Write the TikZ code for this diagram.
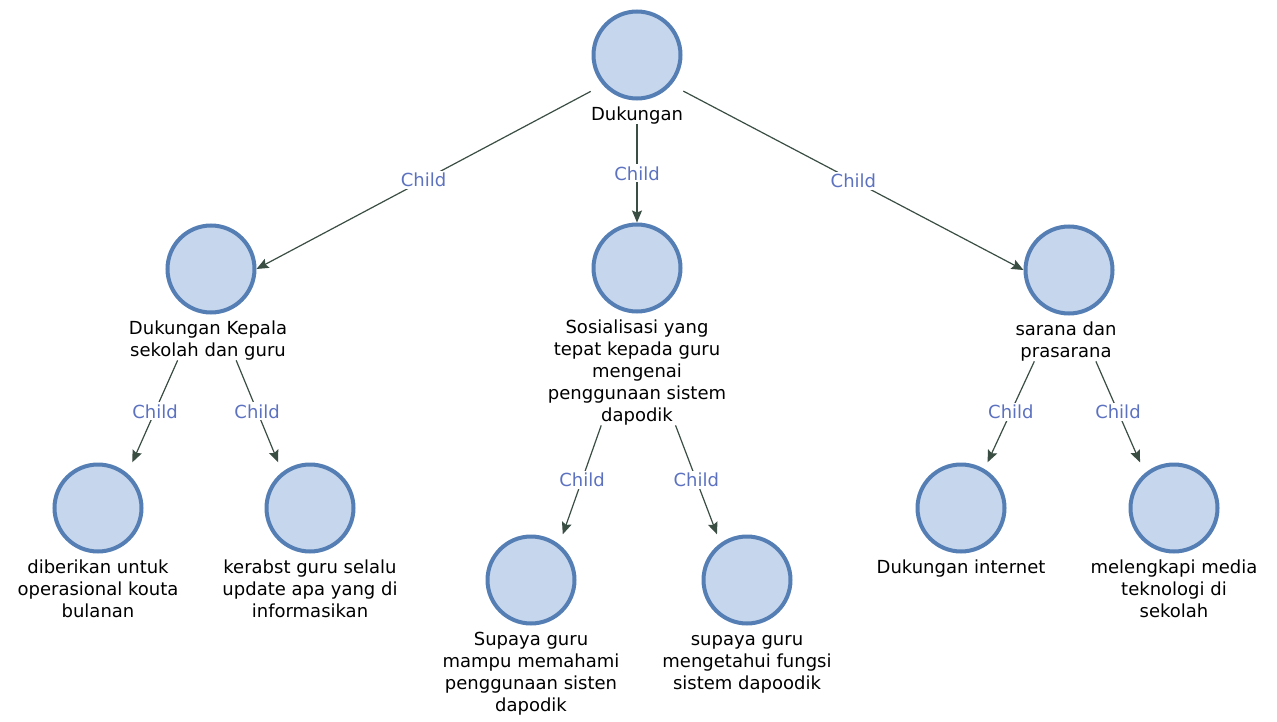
\documentclass[tikz,border=0pt]{standalone}
\usepackage{fontspec}
\setmainfont{DejaVu Sans}
\usetikzlibrary{arrows.meta,fit}
\definecolor{circfill}{RGB}{198,214,236}
\definecolor{circdraw}{RGB}{84,126,180}
\definecolor{edgecol}{RGB}{58,78,68}
\definecolor{childcol}{RGB}{92,114,192}
\newcommand\firststrut{\rule{0pt}{14pt}}
\begin{document}
\begin{tikzpicture}[x=1pt,y=-1pt,
  circ/.style={circle,draw=circdraw,fill=circfill,line width=4pt,minimum size=87pt,inner sep=0pt},
  lbl/.style={anchor=north,align=center,inner sep=0pt,font=\fontsize{18}{22}\selectfont},
  grp/.style={inner sep=0pt,draw=none,rectangle},
  edge/.style={draw=edgecol,line width=1.2pt,-{Stealth[length=12pt,width=10pt,inset=2pt]}},
  elbl/.style={fill=white,text=childcol,inner sep=2pt,font=\fontsize{18}{22}\selectfont}]
\useasboundingbox[fill=white] (0,0) rectangle (1277,722);

% circles
\node[circ] (cRoot) at (637,55) {};
\node[circ] (cL) at (211,269) {};
\node[circ] (cM) at (637,268) {};
\node[circ] (cR) at (1069,270) {};
\node[circ] (cL1) at (98,508) {};
\node[circ] (cL2) at (310,508) {};
\node[circ] (cM1) at (531,580) {};
\node[circ] (cM2) at (747,580) {};
\node[circ] (cR1) at (961,508) {};
\node[circ] (cR2) at (1174,508) {};

% labels
\node[lbl] (lRoot) at (637,106) {\firststrut Dukungan};
\node[lbl] (lL) at (208,320) {\firststrut Dukungan Kepala\\sekolah dan guru};
\node[lbl] (lM) at (637,319) {\firststrut Sosialisasi yang\\tepat kepada guru\\mengenai\\penggunaan sistem\\dapodik};
\node[lbl] (lR) at (1066,321) {\firststrut sarana dan\\prasarana};
\node[lbl] (lL1) at (98,559) {\firststrut diberikan untuk\\operasional kouta\\bulanan};
\node[lbl] (lL2) at (310,559) {\firststrut kerabst guru selalu\\update apa yang di\\informasikan};
\node[lbl] (lM1) at (531,631) {\firststrut Supaya guru\\mampu memahami\\penggunaan sisten\\dapodik};
\node[lbl] (lM2) at (747,631) {\firststrut supaya guru\\mengetahui fungsi\\sistem dapoodik};
\node[lbl] (lR1) at (961,559) {\firststrut Dukungan internet};
\node[lbl] (lR2) at (1174,559) {\firststrut melengkapi media\\teknologi di\\sekolah};

% groups
\node[grp,fit=(cRoot)(lRoot)] (gRoot) {};
\node[grp,fit=(cL)(lL)] (gL) {};
\node[grp,fit=(cM)(lM)] (gM) {};
\node[grp,fit=(cR)(lR)] (gR) {};
\node[grp,fit=(cL1)(lL1)] (gL1) {};
\node[grp,fit=(cL2)(lL2)] (gL2) {};
\node[grp,fit=(cM1)(lM1)] (gM1) {};
\node[grp,fit=(cM2)(lM2)] (gM2) {};
\node[grp,fit=(cR1)(lR1)] (gR1) {};
\node[grp,fit=(cR2)(lR2)] (gR2) {};

% edges
\draw[edge] (gRoot) -- node[elbl] {Child} (cL.east);
\draw[edge] (gRoot) -- node[elbl] {Child} (cM.north);
\draw[edge] (gRoot) -- node[elbl] {Child} (cR.west);
\draw[edge] (gL) -- node[elbl] {Child} (gL1);
\draw[edge] (gL) -- node[elbl] {Child} (gL2);
\draw[edge] (gM) -- node[elbl] {Child} (gM1);
\draw[edge] (gM) -- node[elbl] {Child} (gM2);
\draw[edge] (gR) -- node[elbl] {Child} (gR1);
\draw[edge] (gR) -- node[elbl] {Child} (gR2);
\end{tikzpicture}
\end{document}
